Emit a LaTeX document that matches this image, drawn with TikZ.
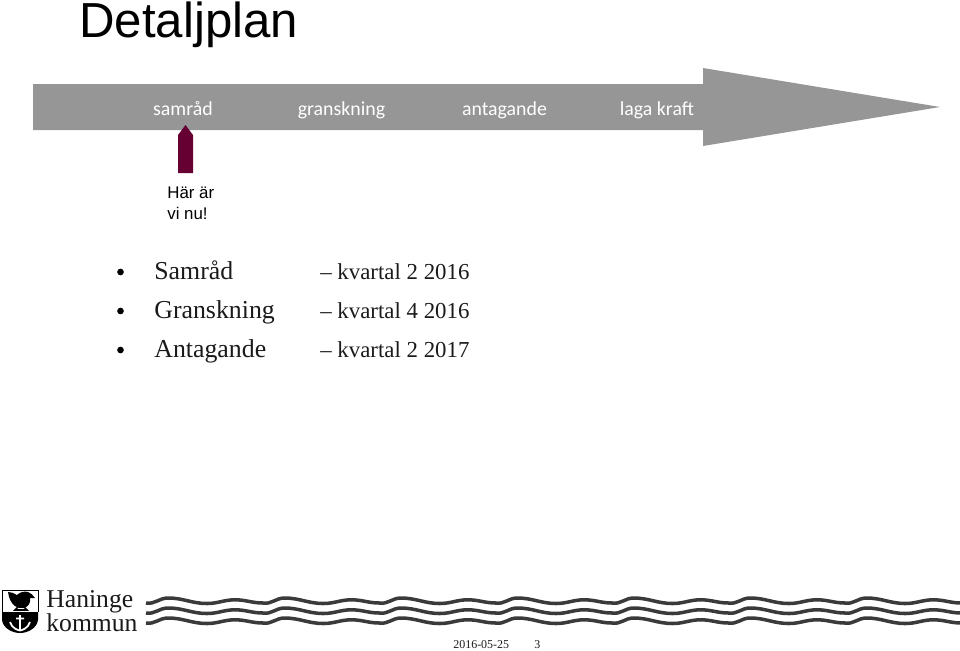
\documentclass[tikz,border=0pt]{standalone}
\usepackage{fontspec}
\usetikzlibrary{positioning}
\setmainfont{Liberation Serif}
\newfontfamily\headfont{Liberation Sans}
\newfontfamily\barfont{Carlito}
\definecolor{barGray}{HTML}{969696}
\definecolor{markerRed}{HTML}{660033}
\definecolor{waveGray}{HTML}{3A3A3A}
\definecolor{inkBlack}{HTML}{1A1A1A}
\tikzset{
    phase/.style={text=white,inner sep=0pt,anchor=base,font=\barfont\fontsize{11.3}{13}\selectfont},
    topic/.style={text=inkBlack,inner sep=0pt,anchor=base west,font=\fontsize{14.7}{16}\selectfont},
    quarter/.style={text=inkBlack,inner sep=0pt,anchor=base west,font=\fontsize{13}{15}\selectfont},
    bullet/.style={circle,fill=black,inner sep=0pt,minimum size=3.8pt},
    wave/.style={draw=waveGray,line width=2pt},
    logotext/.style={text=inkBlack,inner sep=0pt,anchor=base west,font=\fontsize{14.6}{17}\selectfont},
    footer/.style={text=inkBlack,inner sep=0pt,anchor=base west,font=\fontsize{6.8}{9}\selectfont},
    note/.style={anchor=base west,inner sep=0pt,text=black,font=\headfont\fontsize{9.6}{12}\selectfont}
}

\begin{document}
\begin{tikzpicture}[x=0.02cm,y=-0.02cm]
        \useasboundingbox (0,0) rectangle (960,650);
        % timeline
        \fill[barGray] (33,84) -- (703,84) -- (703,68) -- (940,107) -- (703,146)
            -- (703,130) -- (33,130) -- cycle;
        \fill[markerRed] (178,173) -- (178,135) -- (185.5,125) -- (193,135) -- (193,173) -- cycle;
        \node[anchor=base west,inner sep=0pt,text=black,font=\headfont\fontsize{28}{30}\selectfont] (title) at (79,37) {Detaljplan};
        \node[phase] (samrad) at (183,115) {samråd};
        \node[phase] (granskning) at (341.5,115) {granskning};
        \node[phase] (antagande) at (504.5,115) {antagande};
        \node[phase] (lagakraft) at (657,115) {laga kraft};
        \node[note] (harar) at (167,198.5) {Här är};
        \node[note] (vinu) at (167,219) {vi nu!};
        % dates
        \foreach \name/\label/\when/\ypos in {a/Samråd/kvartal 2 2016/279,b/Granskning/kvartal 4 2016/318,c/Antagande/kvartal 2 2017/357}{
            \node[bullet] (dot\name) at (120.5,\ypos-7) {};
            \node[topic] (topic\name) at (154,\ypos) {\label};
            \node[quarter] (when\name) at (320,\ypos) {-- \when};
        }
        % logo
        \fill[black] (2,612) -- (38,612) -- (38,620) .. controls (37,628) and (28,633) .. (20,633)
            .. controls (12,633) and (3,628) .. (2,620) -- cycle;
        \draw[black,line width=0.5pt] (2,612) -- (2,590) -- (38,590) -- (38,612);
        \fill[black] (8,592) .. controls (11,592) and (14,593) .. (17,595)
            .. controls (20,592) and (24,591) .. (28,592) .. controls (31,593) and (33,595) .. (35,598)
            -- (30,598) .. controls (31,603) and (28,607) .. (24,608)
            .. controls (18,609) and (10,606) .. (8,592) -- cycle;
        \draw[black,line width=0.9pt] (18,607) -- (15,610) -- (27,610) -- (24,607);
        \draw[white,line width=1pt] (20,615) -- (20,630) (16,618.5) -- (24,618.5)
            (10,622) .. controls (12,628) and (17,630) .. (20,630.5) .. controls (23,630) and (28,628) .. (30,622);
        \node[logotext] (haninge) at (46,607) {Haninge};
        \node[logotext] (kommun) at (46,631) {kommun};
        \foreach \ypos in {602,612,622}{
            \draw[wave] (146,\ypos+1)
                \foreach \k in {0,...,6}{
                    to[out=-10,in=180] (168+116.4*\k,\ypos-4)
                    to[out=0,in=180] (207+116.4*\k,\ypos+1.5)
                    to[out=0,in=180] (235+116.4*\k,\ypos-2.2)
                    to[out=0,in=180] (263+116.4*\k,\ypos+1)
                };
        }
        % footer
        \node[footer] (datum) at (453,648.5) {2016-05-25};
        \node[footer] (sida) at (534,648.5) {3};
    \end{tikzpicture}
\end{document}
